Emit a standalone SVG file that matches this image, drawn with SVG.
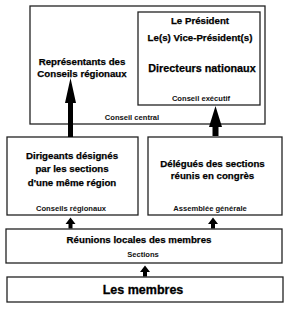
<svg xmlns="http://www.w3.org/2000/svg" width="290" height="310" viewBox="0 0 290 310">
<style>
.box{fill:#fff;stroke:#222;stroke-width:1.3}
.t{font-family:"Liberation Sans",Arial,sans-serif;font-weight:bold;font-size:9.7px;fill:#000;stroke:#000;stroke-width:0.25;text-anchor:middle}
.s{font-family:"Liberation Sans",Arial,sans-serif;font-weight:bold;font-size:7.6px;fill:#111;text-anchor:middle}
.big{font-size:12.5px;stroke-width:0.3}
.arr{fill:#000}
</style>
<rect width="290" height="310" fill="#fff"/>
<g id="conseil-central">
<rect class="box" x="30" y="6" width="235" height="118"/>
<text class="t" x="82" y="64.5">Représentants des</text>
<text class="t" x="82" y="76.5">Conseils régionaux</text>
<text class="s" x="132" y="120">Conseil central</text>
</g>
<g id="conseil-executif">
<rect class="box" x="138" y="12" width="122" height="93"/>
<text class="t" x="200" y="23.5">Le Président</text>
<text class="t" x="200" y="40.5">Le(s) Vice-Président(s)</text>
<text class="t" x="202" y="72" style="font-size:10.8px">Directeurs nationaux</text>
<text class="s" x="201" y="101">Conseil exécutif</text>
</g>
<g id="conseils-regionaux">
<rect class="box" x="7" y="137" width="131" height="78"/>
<text class="t" x="72" y="158.5">Dirigeants désignés</text>
<text class="t" x="72" y="172">par les sections</text>
<text class="t" x="72" y="185.5">d'une même région</text>
<text class="s" x="71" y="211">Conseils régionaux</text>
</g>
<g id="assemblee-generale">
<rect class="box" x="148" y="137" width="134" height="78"/>
<text class="t" x="212.5" y="167">Délégués des sections</text>
<text class="t" x="212.5" y="178.5">réunis en congrès</text>
<text class="s" x="210" y="211">Assemblée générale</text>
</g>
<g id="sections">
<rect class="box" x="6" y="229" width="276" height="34"/>
<text class="t" x="139" y="242.5">Réunions locales des membres</text>
<text class="s" x="143" y="257">Sections</text>
</g>
<g id="membres">
<rect class="box" x="7" y="277" width="276" height="25"/>
<text class="t big" x="143" y="293.5">Les membres</text>
</g>
<g id="connectors">
<polygon class="arr" points="68,137 68,103 65,103 70.5,78 76,103 73,103 73,137"/>
<polygon class="arr" points="212.5,136 212.5,127 209,127 215.5,106 222,127 218.5,127 218.5,136"/>
<polygon class="arr" points="68.5,228.5 68.5,224 65.5,224 70.5,217.5 75.5,224 72.5,224 72.5,228.5"/>
<polygon class="arr" points="211,228.5 211,224 208,224 213,217.5 218,224 215,224 215,228.5"/>
<polygon class="arr" points="143,276.5 143,272 140,272 145,265.5 150,272 147,272 147,276.5"/>
</g>
</svg>
